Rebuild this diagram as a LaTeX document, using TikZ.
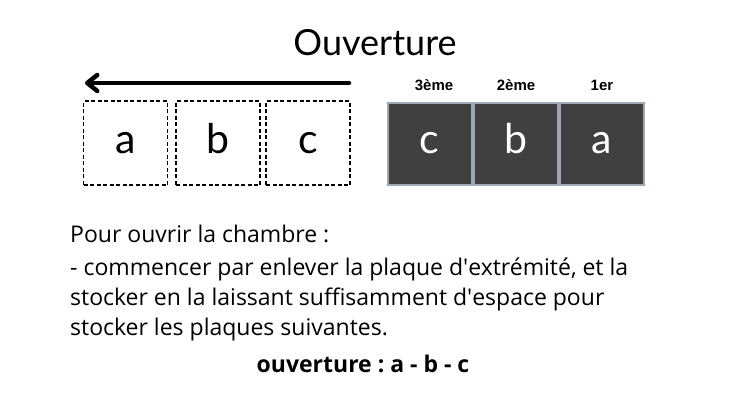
\documentclass[tikz,border=0pt]{standalone}
\usepackage{fontspec}
\setmainfont{Open Sans}
\newfontfamily\latofont{Lato}
\newfontfamily\labfont{Liberation Sans}
\usetikzlibrary{arrows.meta}
\definecolor{plate}{HTML}{404040}
\definecolor{plateedge}{HTML}{9DA8B4}
\frenchspacing
\begin{document}
\begin{tikzpicture}[x=1pt,y=-1pt,
  emptybox/.style={draw=black, line width=1.2pt, dash pattern=on 4pt off 2.5pt, minimum width=84pt, minimum height=84pt, inner sep=0pt, text height=20pt, text depth=0pt, font=\latofont\fontsize{41}{43}\selectfont},
  platebox/.style={draw=plateedge, fill=plate, line width=2pt, minimum width=84pt, minimum height=82pt, inner sep=0pt, text height=20pt, text depth=0pt, text=white, font=\latofont\fontsize{41}{43}\selectfont},
  ranklabel/.style={font=\labfont\bfseries\fontsize{15}{17}\selectfont, inner sep=0pt, anchor=base},
  bodytext/.style={font=\fontsize{23}{31}\selectfont, align=left, inner sep=0pt, anchor=base west}]
\useasboundingbox[fill=white] (0,0) rectangle (745,405);
\node[font=\latofont\fontsize{36}{40}\selectfont, anchor=base, inner sep=0pt] (title) at (375,55) {Ouverture};
\coordinate (arrowstart) at (349,83);
\coordinate (arrowend) at (85,83);
\draw[line width=4.5pt, line cap=round, line join=round, -{Straight Barb[length=10pt,width=16pt,line cap=round,line join=round]}] (arrowstart) -- (arrowend);
\node[emptybox] (ea) at (125.5,143) {a};
\node[emptybox] (eb) at (218,143) {b};
\node[emptybox] (ec) at (308,143) {c};
\node[platebox] (pc) at (429.5,143.5) {c};
\node[platebox] (pb) at (515.5,143.5) {b};
\node[platebox] (pa) at (602,143.5) {a};
\node[ranklabel] (l3) at (434,90) {3ème};
\node[ranklabel] (l2) at (516,90) {2ème};
\node[ranklabel] (l1) at (602,90) {1er};
\node[bodytext] (body) at (70,242) {Pour ouvrir la chambre :};
\node[bodytext] (body2) at (70,275) {- commencer par enlever la plaque d\textquotesingle extrémité, et la};
\node[bodytext] (body3) at (70,305) {stocker en la laissant suffisamment d\textquotesingle espace pour};
\node[bodytext] (body4) at (70,335) {stocker les plaques suivantes.};
\node[font=\bfseries\fontsize{23}{26}\selectfont, anchor=base, inner sep=0pt] (order) at (363,372) {ouverture : a - b - c};
\end{tikzpicture}
\end{document}
